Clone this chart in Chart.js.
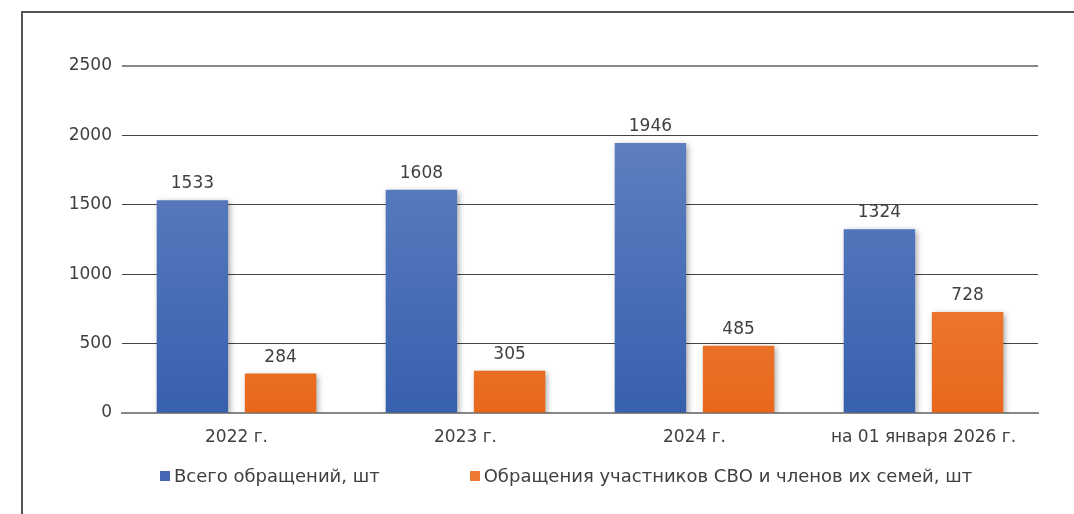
<!DOCTYPE html>
<html lang="ru">
<head>
<meta charset="utf-8">
<script src="https://cdn.jsdelivr.net/npm/chart.js@4/dist/chart.umd.min.js"></script>
<style>
  html, body { margin: 0; padding: 0; background: #fff; }
  #wrap { position: relative; width: 1074px; height: 514px; overflow: hidden; }
  #frame { position: absolute; left: 21px; top: 11px; right: -10px; bottom: -10px;
           border-left: 2px solid #555; border-top: 2px solid #555; }
  canvas { position: absolute; left: 0; top: 0; }
  #legend { position: absolute; left: 160px; top: 465px; display: flex; gap: 90px;
            font: 18px 'DejaVu Sans', sans-serif; color: #404040; white-space: nowrap; }
  #legend span.item { display: flex; align-items: center; }
  #legend i { display: inline-block; width: 10px; height: 10px; margin-right: 4px; }
</style>
</head>
<body>
<div id="wrap">
  <div id="frame"></div>
  <canvas id="chart" width="1074" height="514"></canvas>
  <div id="legend"></div>
</div>
<script>
const categories = ["2022 г.", "2023 г.", "2024 г.", "на 01 января 2026 г."];
const seriesNames = ["Всего обращений, шт", "Обращения участников СВО и членов их семей, шт"];
const totalValues = [1533, 1608, 1946, 1324];
const svoValues = [284, 305, 485, 728];
const yTicks = [0, 500, 1000, 1500, 2000, 2500];

const fontFamily = "'DejaVu Sans', sans-serif";
const textColor = "#404040";
const legendColors = ["#4468b3", "#ec7a30"];

function grad(top, bottom) {
  return (ctx) => {
    const area = ctx.chart.chartArea;
    if (!area) return bottom;
    const g = ctx.chart.ctx.createLinearGradient(0, area.top, 0, area.bottom);
    g.addColorStop(0, top);
    g.addColorStop(1, bottom);
    return g;
  };
}

// тень под столбцами
const shadowPlugin = {
  id: "shadow",
  beforeDatasetsDraw(chart) {
    const c = chart.ctx;
    c.save();
    c.shadowColor = "rgba(0,0,0,0.35)";
    c.shadowBlur = 6;
    c.shadowOffsetX = 2;
    c.shadowOffsetY = 2;
  },
  afterDatasetsDraw(chart) {
    chart.ctx.restore();
  }
};

// подписи значений над столбцами
const valueLabels = {
  id: "valueLabels",
  afterDatasetsDraw(chart) {
    const c = chart.ctx;
    c.save();
    c.font = "17px " + fontFamily;
    c.fillStyle = textColor;
    c.textAlign = "center";
    c.textBaseline = "bottom";
    chart.data.datasets.forEach((ds, i) => {
      chart.getDatasetMeta(i).data.forEach((bar, j) => {
        c.fillText(ds.data[j], bar.x, bar.y - 8);
      });
    });
    c.restore();
  }
};

const chart = new Chart(document.getElementById("chart"), {
  type: "bar",
  data: {
    labels: categories,
    datasets: [
      { label: seriesNames[0], data: totalValues, backgroundColor: grad("#6887c6", "#3760ad") },
      { label: seriesNames[1], data: svoValues, backgroundColor: grad("#f5955a", "#e8681b") }
    ]
  },
  options: {
    responsive: false,
    animation: false,
    datasets: { bar: { categoryPercentage: 0.77, barPercentage: 0.81 } },
    layout: { padding: { left: 0, right: 36, top: 66, bottom: 61 } },
    plugins: {
      tooltip: { enabled: false },
      legend: { display: false }
    },
    scales: {
      x: {
        afterFit(scale) { scale.height = 40; },
        grid: { display: false },
        border: { color: "#888", width: 2 },
        ticks: { font: { family: fontFamily, size: 17 }, color: textColor, padding: 6, maxRotation: 0 }
      },
      y: {
        min: 0,
        max: 2500,
        afterFit(scale) { scale.width = 122; },
        afterBuildTicks(scale) { scale.ticks = yTicks.map(v => ({ value: v })); },
        border: { display: false },
        grid: {
          drawTicks: false,
          color: (ctx) => ctx.tick && ctx.tick.value === 2500 ? "#888" : "#444",
          lineWidth: (ctx) => ctx.tick && ctx.tick.value === 2500 ? 2 : 1
        },
        ticks: {
          font: { family: fontFamily, size: 17 },
          color: textColor,
          padding: 10,
          callback: (v) => String(v)
        }
      }
    }
  },
  plugins: [shadowPlugin, valueLabels]
});

// легенда
const legend = document.getElementById("legend");
chart.data.datasets.forEach((ds, i) => {
  const item = document.createElement("span");
  item.className = "item";
  const box = document.createElement("i");
  box.style.background = legendColors[i];
  item.appendChild(box);
  item.appendChild(document.createTextNode(ds.label));
  legend.appendChild(item);
});
</script>
</body>
</html>
